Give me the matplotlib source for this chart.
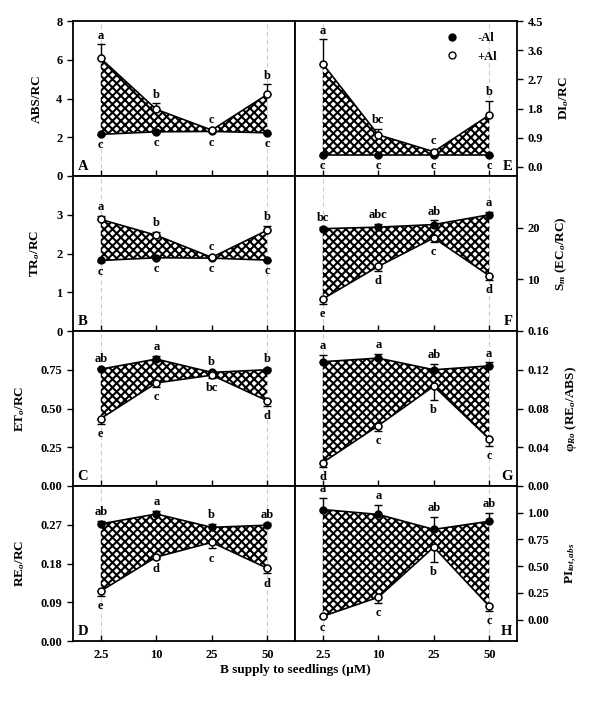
import numpy as np
import matplotlib
matplotlib.use('Agg')
import matplotlib.pyplot as plt
from matplotlib.lines import Line2D

plt.rcParams['font.family'] = ['Liberation Serif', 'DejaVu Serif']
plt.rcParams['font.weight'] = 'bold'
plt.rcParams['mathtext.fontset'] = 'custom'
plt.rcParams['mathtext.rm'] = 'Liberation Serif:bold'
plt.rcParams['mathtext.it'] = 'Liberation Serif:bold:italic'
plt.rcParams['mathtext.bf'] = 'Liberation Serif:bold'
plt.rcParams['hatch.linewidth'] = 1.5

# B supply levels
b_supply = ['2.5', '10', '25', '50']

# A: ABS/RC
abs_minus = [2.15, 2.28, 2.30, 2.23]
abs_minus_err = [0.05, 0.05, 0.05, 0.05]
abs_plus = [6.07, 3.44, 2.37, 4.21]
abs_plus_err = [0.72, 0.31, 0.08, 0.52]
abs_minus_let = ['c', 'c', 'c', 'c']
abs_plus_let = ['a', 'b', 'c', 'b']

# B: TRo/RC
tr_minus = [1.82, 1.89, 1.88, 1.83]
tr_minus_err = [0.03, 0.03, 0.03, 0.03]
tr_plus = [2.88, 2.47, 1.90, 2.60]
tr_plus_err = [0.09, 0.08, 0.04, 0.12]
tr_minus_let = ['c', 'c', 'c', 'c']
tr_plus_let = ['a', 'b', 'c', 'b']

# C: ETo/RC
et_minus = [0.754, 0.819, 0.733, 0.750]
et_minus_err = [0.01, 0.02, 0.01, 0.01]
et_plus = [0.435, 0.665, 0.715, 0.550]
et_plus_err = [0.035, 0.025, 0.015, 0.035]
et_minus_let = ['ab', 'a', 'b', 'b']
et_plus_let = ['e', 'c', 'bc', 'd']

# D: REo/RC
re_minus = [0.272, 0.295, 0.264, 0.269]
re_minus_err = [0.007, 0.007, 0.008, 0.004]
re_plus = [0.116, 0.195, 0.229, 0.169]
re_plus_err = [0.011, 0.005, 0.014, 0.012]
re_minus_let = ['ab', 'a', 'b', 'ab']
re_plus_let = ['e', 'd', 'c', 'd']

# E: DIo/RC
di_minus = [0.37, 0.37, 0.37, 0.37]
di_minus_err = [0.02, 0.02, 0.02, 0.02]
di_plus = [3.18, 0.99, 0.47, 1.60]
di_plus_err = [0.75, 0.19, 0.05, 0.44]
di_minus_let = ['c', 'c', 'c', 'c']
di_plus_let = ['a', 'bc', 'c', 'b']

# F: Sm (ECo/RC)
sm_minus = [19.8, 20.1, 20.6, 22.5]
sm_minus_err = [0.4, 0.6, 0.8, 0.5]
sm_plus = [6.2, 12.5, 18.0, 10.7]
sm_plus_err = [0.9, 0.8, 0.7, 0.8]
sm_minus_let = ['bc', 'abc', 'ab', 'a']
sm_plus_let = ['e', 'd', 'c', 'd']

# G: phi Ro (REo/ABS)
phi_minus = [0.1283, 0.132, 0.120, 0.124]
phi_minus_err = [0.0067, 0.004, 0.006, 0.0035]
phi_plus = [0.0242, 0.0623, 0.103, 0.0485]
phi_plus_err = [0.0042, 0.0058, 0.014, 0.0075]
phi_minus_let = ['a', 'a', 'ab', 'a']
phi_plus_let = ['d', 'c', 'b', 'c']

# H: PI tot,abs
pi_minus = [1.03, 0.984, 0.844, 0.92]
pi_minus_err = [0.106, 0.091, 0.116, 0.08]
pi_plus = [0.031, 0.209, 0.678, 0.125]
pi_plus_err = [0.01, 0.053, 0.138, 0.041]
pi_minus_let = ['a', 'a', 'ab', 'ab']
pi_plus_let = ['c', 'c', 'b', 'c']

panels = [
    # key, col, row, ylabel, minus, minus_err, plus, plus_err, mlet, plet, plus_on_top, ylim, yticks, fmt
    ('A', 0, 0, 'ABS/RC', abs_minus, abs_minus_err, abs_plus, abs_plus_err,
     abs_minus_let, abs_plus_let, True, (0, 8), [0, 2, 4, 6, 8], '%g'),
    ('B', 0, 1, 'TR$_{o}$/RC', tr_minus, tr_minus_err, tr_plus, tr_plus_err,
     tr_minus_let, tr_plus_let, True, (0, 4), [0, 1, 2, 3], '%g'),
    ('C', 0, 2, 'ET$_{o}$/RC', et_minus, et_minus_err, et_plus, et_plus_err,
     et_minus_let, et_plus_let, False, (0, 1.0), [0, 0.25, 0.5, 0.75], '%.2f'),
    ('D', 0, 3, 'RE$_{o}$/RC', re_minus, re_minus_err, re_plus, re_plus_err,
     re_minus_let, re_plus_let, False, (0, 0.36), [0, 0.09, 0.18, 0.27], '%.2f'),
    ('E', 1, 0, 'DI$_{o}$/RC', di_minus, di_minus_err, di_plus, di_plus_err,
     di_minus_let, di_plus_let, True, (-0.28, 4.5), [0, 0.9, 1.8, 2.7, 3.6, 4.5], '%.1f'),
    ('F', 1, 1, 'S$_{m}$ (EC$_{o}$/RC)', sm_minus, sm_minus_err, sm_plus, sm_plus_err,
     sm_minus_let, sm_plus_let, False, (0, 30), [10, 20], '%g'),
    ('G', 1, 2, '\u03c6$_{Ro}$ (RE$_{o}$/ABS)', phi_minus, phi_minus_err, phi_plus, phi_plus_err,
     phi_minus_let, phi_plus_let, False, (0, 0.16), [0, 0.04, 0.08, 0.12, 0.16], '%.2f'),
    ('H', 1, 3, 'PI$_{tot,abs}$', pi_minus, pi_minus_err, pi_plus, pi_plus_err,
     pi_minus_let, pi_plus_let, False, (-0.2, 1.25), [0, 0.25, 0.5, 0.75, 1.0], '%.2f'),
]

fig = plt.figure(figsize=(6.0, 7.04), dpi=100)
x = np.arange(len(b_supply))

lefts = [73 / 600, 295 / 600]
w = 222 / 600
h = 155 / 704
tops = [21, 176, 331, 486]

for key, col, row, ylab, mn, mn_e, pl, pl_e, mlet, plet, plus_top, ylim, yt, fmt in panels:
    ax = fig.add_axes([lefts[col], 1 - (tops[row] + 155) / 704, w, h])
    ax.set_xlim(-0.5, 3.5)
    ax.set_ylim(*ylim)
    for xv in (0, 3):
        ax.axvline(xv, color='#cccccc', lw=0.8, ls=(0, (4, 3)), zorder=0)
    ax.fill_between(x, mn, pl, facecolor='white', edgecolor='black', hatch='xxxx',
                    lw=0, zorder=1)
    mn = np.array(mn); pl = np.array(pl)
    mn_e = np.array(mn_e); pl_e = np.array(pl_e)
    z = np.zeros(4)
    if plus_top:
        ax.errorbar(x, pl, yerr=[z, pl_e], fmt='none', ecolor='black', elinewidth=1,
                    capsize=3, capthick=1, zorder=2)
        ax.errorbar(x, mn, yerr=[mn_e, z], fmt='none', ecolor='black', elinewidth=1,
                    capsize=3, capthick=1, zorder=2)
    else:
        ax.errorbar(x, mn, yerr=[z, mn_e], fmt='none', ecolor='black', elinewidth=1,
                    capsize=3, capthick=1, zorder=2)
        ax.errorbar(x, pl, yerr=[pl_e, z], fmt='none', ecolor='black', elinewidth=1,
                    capsize=3, capthick=1, zorder=2)
    ax.plot(x, mn, '-o', color='black', mfc='black', mec='black', ms=5, lw=1.2, zorder=3)
    ax.plot(x, pl, '-o', color='black', mfc='white', mec='black', ms=5, mew=1.1, lw=1.2, zorder=3)

    if plus_top:
        top_v, top_e, top_l = pl, pl_e, plet
        bot_v, bot_e, bot_l = mn, mn_e, mlet
    else:
        top_v, top_e, top_l = mn, mn_e, mlet
        bot_v, bot_e, bot_l = pl, pl_e, plet
    for i in range(4):
        ax.annotate(top_l[i], (x[i], top_v[i] + top_e[i]), xytext=(0, 2),
                    textcoords='offset points', ha='center', va='bottom',
                    fontsize=9, fontweight='bold')
        ax.annotate(bot_l[i], (x[i], bot_v[i] - bot_e[i]), xytext=(0, -3),
                    textcoords='offset points', ha='center', va='top',
                    fontsize=9, fontweight='bold')

    ax.set_yticks(yt)
    ax.set_yticklabels([fmt % v for v in yt], fontsize=9, fontweight='bold')
    ax.set_xticks(x)
    if row == 3:
        ax.set_xticklabels(b_supply, fontsize=9, fontweight='bold')
    else:
        ax.set_xticklabels([])
    ax.tick_params(axis='x', direction='in', length=4, width=1, pad=6)
    ax.tick_params(axis='y', direction='out', length=4, width=1)
    for sp in ax.spines.values():
        sp.set_linewidth(1.3)

    if col == 0:
        ax.set_ylabel(ylab, fontsize=9.5, fontweight='bold', labelpad=10)
        ax.text(0.02, 0.02, key, transform=ax.transAxes, ha='left', va='bottom',
                fontsize=10.5, fontweight='bold')
    else:
        ax.yaxis.tick_right()
        ax.yaxis.set_label_position('right')
        ax.set_ylabel(ylab, fontsize=9.5, fontweight='bold', labelpad=10)
        ax.text(0.98, 0.02, key, transform=ax.transAxes, ha='right', va='bottom',
                fontsize=10.5, fontweight='bold')
        if key == 'E':
            handles = [Line2D([], [], marker='o', ls='none', color='black', mfc='black', ms=5),
                       Line2D([], [], marker='o', ls='none', color='black', mfc='white', ms=5)]
            ax.legend(handles, ['-Al', '+Al'], loc='upper right', frameon=False,
                      fontsize=9, handletextpad=1.0, borderaxespad=0.5,
                      bbox_to_anchor=(0.96, 1.0))

fig.text(295 / 600, 1 - 670 / 704, 'B supply to seedlings (\u03bcM)', ha='center', va='center',
         fontsize=9.5, fontweight='bold')

fig.savefig('out.png', dpi=100)
